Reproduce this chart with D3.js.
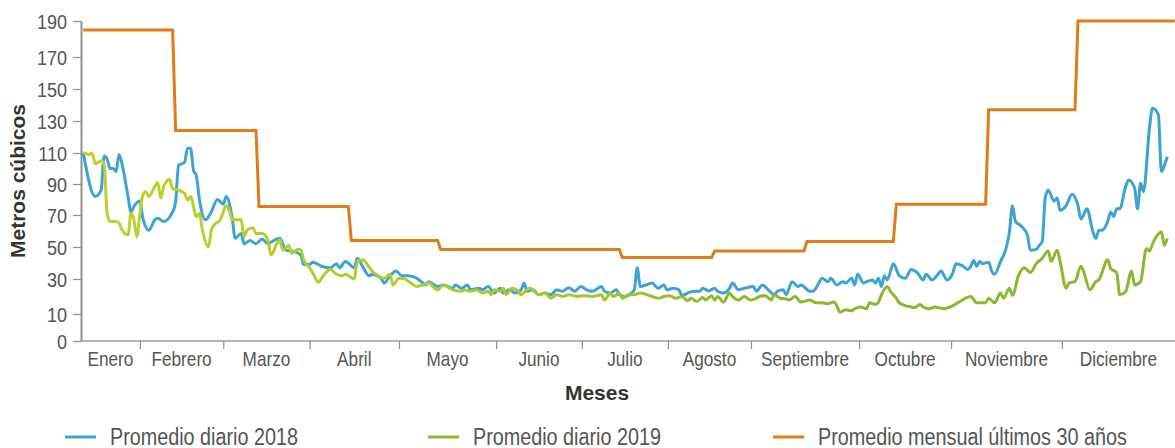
<!DOCTYPE html>
<html><head><meta charset="utf-8">
<script src="https://cdn.jsdelivr.net/npm/d3@7/dist/d3.min.js"></script>
<style>
html,body{margin:0;padding:0;background:#fff;}
svg{display:block;}
.lbl{font-family:"Liberation Sans",Arial,sans-serif;fill:#555;}
.ttl{font-family:"Liberation Sans",Arial,sans-serif;font-weight:bold;fill:#333;}
</style></head><body>
<svg id="chart" width="1175" height="448"></svg>
<script>
// ---------------- DATA ----------------
const monthLabels = ["Enero","Febrero","Marzo","Abril","Mayo","Junio","Julio","Agosto","Septiembre","Octubre","Noviembre","Diciembre"];
// month separators on the category axis (day-of-year units, as drawn in the original)
const monthTickDays = [19, 47, 76, 106, 138.6, 167.4, 196.3, 224.2, 260.5, 291.4, 328.6];
const yTickValues = [0, 10, 30, 50, 70, 90, 110, 130, 150, 170, 190];
const yTickLabels = ["0","10","30","50","70","90","110","130","150","170","190"];
const monthStartDays = [0, 31, 59, 90, 120, 151, 181, 212, 243, 273, 304, 334];
const lastDay = 366.5;
const avg30Values = [185, 124, 75.5, 54, 48.5, 48.5, 43.5, 47.5, 53.5, 77, 137, 190];
const seriesNames = ["Promedio diario 2018", "Promedio diario 2019", "Promedio mensual últimos 30 años"];

// [day of year, value]
const series2018 = [[0,110],[4,82],[6,86],[7,108],[8,106],[9,100],[10,100],[11,98],[12,109],[13,103],[15,82],[16,72],[17,75.5],[19,79],[20,68],[22,60.5],[24,67],[25,68],[27,66],[30,72],[31,78.6],[32,102],[34,104],[35,113],[36,113],[37,99],[38,95],[39,80],[41,67],[43,72],[45,80],[47,77],[48,82],[50,68],[51,55.4],[53,58.5],[54,52],[56,54],[58,52],[60,55],[62,52],[63,53],[66,55.4],[68,48],[71,47],[73,45],[74,39],[76,39],[77,40.5],[80,38],[83,37],[85,39.6],[86,37],[88,41],[91,37],[92,43],[94,37],[96,32],[97,33],[100,30.5],[101,27.7],[103,32],[105,35],[107,32],[109,32],[112,30.5],[114,27.7],[115,26.6],[116,28.5],[119,25.7],[121,26.6],[124,24.7],[125,26.6],[127,24.7],[129,26.6],[130,23.8],[133,24.7],[134,23.8],[136,25.7],[138,22],[140,24.7],[141,22],[143,23.8],[145,22],[147,23.8],[148,27.7],[149,23],[151,23.8],[153,21],[155,22],[157,21],[159,23.8],[161,23],[163,25],[165,23],[167,25.7],[169,23.8],[171,23],[174,25.7],[175,23],[177,22],[179,23.8],[180,21],[182,20],[184,22],[185,23.8],[186,37],[187,25.7],[189,26.6],[191,27.7],[193,24.7],[195,26.6],[196,23.8],[198,24.7],[200,23.8],[201,20.6],[203,22],[205,23],[207,23],[208,24.7],[210,23.2],[212,24.7],[213,23],[215,22],[217,24.7],[218,27.7],[220,23.8],[222,24.7],[225,25.7],[226,23],[228,26.6],[230,23.8],[232,21],[233,23],[235,23.8],[236,21],[238,28.5],[240,25.7],[241,26.6],[244,23],[245,23],[247,27.7],[248,30.5],[250,28.5],[251,30.5],[253,26.6],[255,28.5],[256,27.7],[258,30.5],[259,26.6],[260,33],[262,27.7],[263,28.5],[265,29.5],[266,27.7],[267,30.5],[268,25.7],[269,32],[270,29.5],[272,39.6],[274,32],[276,30.5],[278,36],[280,34],[282,29.5],[283,33],[285,29.5],[287,33],[288,35],[290,29.5],[292,34],[293,39.6],[295,38.5],[297,36],[298,38],[299,41.5],[300,38],[301,41],[302,39.6],[304,40.5],[305,35],[306,33],[308,41],[310,50.2],[311,59.6],[312,76],[313,66],[315,63],[317,57.5],[318,48],[320,48.5],[321,51],[322,53.4],[323,81],[324,86],[326,79],[327,81],[328,73],[330,76],[332,83.4],[334,76],[335,67.4],[337,74],[339,59.6],[340,55.4],[341,60.5],[342,60.5],[344,66],[345,72],[346,69],[347,74],[348,74],[350,88.3],[351,92.6],[353,87.6],[354,74],[355,90.5],[356,85],[358,125.5],[359,138],[361,134],[362,98],[363,102],[364,107.6]];

const series2019 = [[0,110.5],[2,109],[3,110],[4,103],[6,105],[7,103],[8,71],[9,66],[11,66],[12,65],[13,60.6],[15,57.5],[16,71],[17,67],[18,56.4],[19,71],[20,83],[21,85],[22,82],[24,88.4],[25,91],[26,81],[27,88.4],[29,93],[30,87],[31,86.6],[34,84],[35,79.6],[36,82],[38,69],[39,71],[40,60.6],[42,50],[43,60.6],[44,64],[46,67],[48,76],[49,73],[50,67],[53,67],[54,56.5],[55,60.6],[57,62],[58,58.5],[60,58.5],[62,54.4],[63,45],[65,52],[66,54.5],[67,48],[69,51],[70,46],[72,48.5],[73,48.5],[74,42],[76,37],[77,34],[79,28],[80,30.5],[82,35],[83,36],[85,33],[87,32],[88,33],[91,30],[92,41],[94,42],[95,40],[97,35],[99,32],[101,30.5],[103,33],[104,26.6],[106,30.5],[108,30],[110,27.7],[112,25.7],[114,26.6],[116,27.7],[118,24.7],[119,23.8],[121,26.6],[123,24.7],[124,23.8],[127,23],[128,23.8],[130,23],[132,23.8],[134,22],[136,23],[137,21],[138,23.8],[140,23],[141,24.7],[142,21],[144,24.7],[146,23],[147,21],[149,23.8],[150,24.7],[152,22],[153,21],[155,22],[157,19],[159,21],[161,20],[163,21],[166,20],[168,20.5],[171,20],[174,21],[175,18],[177,22],[178,20],[180,22],[181,19],[183,21],[185,21],[187,22],[191,20],[193,19],[195,20],[197,20.5],[199,19],[201,20],[203,17.6],[204,19],[206,17.2],[208,19.4],[209,18],[211,20.5],[212,18],[213,20],[215,16.8],[217,22],[218,20],[220,18],[222,20],[224,18],[226,19],[227,20],[229,20.5],[231,18],[232,21],[234,19],[236,18.6],[237,18],[239,20],[241,16.8],[242,17.2],[244,18],[246,16.4],[248,16.4],[250,15.8],[252,16.8],[253,14.8],[254,11],[256,12.5],[258,11.8],[259,13],[261,14],[263,13],[264,16.4],[266,15.5],[267,16.8],[268,21],[270,25.7],[271,23],[273,19],[274,16.4],[276,14.8],[278,14],[279,13.6],[281,15.5],[282,14],[284,13],[286,14],[289,13],[292,14.8],[294,16.8],[298,20],[300,16.4],[303,16.4],[304,19],[306,16.4],[308,22],[309,19],[311,24.7],[312,20.6],[314,32],[316,37],[318,34],[320,39.6],[322,43],[324,47.5],[325,41],[327,48],[328,41],[330,24.7],[331,27.7],[333,28.5],[335,38],[336,34],[338,23.8],[340,28.5],[341,29.5],[344,42],[345,36.5],[347,34],[348,21],[350,22.8],[352,35],[353,26.6],[355,28.5],[357,49],[358,47.5],[359,51.7],[360,55.4],[362,59.6],[363,51],[364,55.4]];

// ---------------- LAYOUT ----------------
const W = 1175, H = 448;
const axisX = 81, axisRight = 1175;
const yTickPx = [341, 314, 279, 247, 215, 184, 153, 121, 89, 57, 21];
const K = 0.86; // horizontal condensing of the light label face
const C2018 = "#3ea2d4", C2019a = "#bdd12b", C2019b = "#8cb82f", CAVG = "#e07c1c";

const svg = d3.select("#chart");

const x = d3.scaleLinear().domain([0, 365]).range([83.3, 1170.3]);
const y = d3.scaleLinear().domain(yTickValues).range(yTickPx);
const baseY = y(0);

// gradient for 2019 line
const defs = svg.append("defs");
const grad = defs.append("linearGradient").attr("id","g2019")
  .attr("gradientUnits","userSpaceOnUse")
  .attr("x1", x(0)).attr("x2", x(365)).attr("y1",0).attr("y2",0);
grad.append("stop").attr("offset","0").attr("stop-color",C2019a);
grad.append("stop").attr("offset","0.45").attr("stop-color","#a8c82e");
grad.append("stop").attr("offset","0.6").attr("stop-color",C2019b);
grad.append("stop").attr("offset","1").attr("stop-color",C2019b);

// Y axis
const yAxis = d3.axisLeft(y).tickValues(yTickValues)
  .tickFormat((d,i)=>yTickLabels[i]).tickSize(8).tickSizeOuter(0).tickPadding(6);
const gy = svg.append("g").attr("transform",`translate(${axisX},0)`).call(yAxis);
gy.select(".domain").attr("stroke","#8f8f8f").attr("stroke-width",2);
gy.selectAll(".tick line").attr("stroke","#8f8f8f").attr("stroke-width",1.2);
gy.selectAll(".tick text").attr("class","lbl").style("font-size","21px")
  .attr("font-family",null).attr("font-size",null)
  .attr("x",-14/K).attr("dy","0.36em").attr("transform",`scale(${K},1)`);
gy.attr("font-family",null).attr("font-size",null);

// X axis
const axisStartDay = x.invert(axisX), axisEndDay = x.invert(axisRight);
const xAxis = d3.axisBottom(x).tickValues(monthTickDays).tickFormat("")
  .tickSize(8).tickSizeOuter(0);
const gx = svg.append("g").attr("transform",`translate(0,${baseY})`).call(xAxis);
gx.select(".domain").attr("d",`M${axisX},0H${axisRight}`).attr("stroke","#9a9a9a").attr("stroke-width",1.6);
gx.selectAll(".tick line").attr("stroke","#8f8f8f").attr("stroke-width",1.2);

const bounds = [axisStartDay, ...monthTickDays, axisEndDay];
svg.append("g").selectAll("text").data(monthLabels).join("text")
  .attr("class","lbl").style("font-size","20px")
  .attr("text-anchor","middle")
  .attr("transform",(d,i)=>`translate(${x((bounds[i]+bounds[i+1])/2)},${baseY+25})scale(${K},1)`)
  .text(d=>d);

// Axis titles
svg.append("text").attr("class","ttl").style("font-size","21px")
  .attr("text-anchor","middle")
  .attr("transform",`translate(25,${(y(190)+baseY)/2})rotate(-90)`)
  .text("Metros cúbicos");
svg.append("text").attr("class","ttl").style("font-size","21px")
  .attr("text-anchor","middle")
  .attr("x",(axisX+axisRight)/2-31).attr("y",400)
  .text("Meses");

// Lines
const line = d3.line().x(d=>x(d[0])).y(d=>y(d[1])).curve(d3.curveMonotoneX);
const avgPts = [];
avg30Values.forEach((v,i)=>{
  const s = monthStartDays[i];
  const e = i < monthStartDays.length-1 ? monthStartDays[i+1]-1 : lastDay;
  avgPts.push([s,v],[e,v]);
});
const stepLine = d3.line().x(d=>x(d[0])).y(d=>y(d[1]));

svg.append("path").datum(series2018).attr("d",line)
  .attr("fill","none").attr("stroke",C2018).attr("stroke-width",3).attr("stroke-linejoin","round");
svg.append("path").datum(series2019).attr("d",line)
  .attr("fill","none").attr("stroke","url(#g2019)").attr("stroke-width",3).attr("stroke-linejoin","round");
svg.append("path").datum(avgPts).attr("d",stepLine)
  .attr("fill","none").attr("stroke",CAVG).attr("stroke-width",3);

// Legend
const legendX = [65, 428, 773];
const legendColors = [C2018, C2019b, CAVG];
const lg = svg.append("g").selectAll("g").data(seriesNames).join("g")
  .attr("transform",(d,i)=>`translate(${legendX[i]},437)`);
lg.append("line").attr("x1",0).attr("x2",31).attr("y1",0).attr("y2",0)
  .attr("stroke",(d,i)=>legendColors[i]).attr("stroke-width",3);
lg.append("text").attr("class","lbl").style("font-size","23px")
  .attr("transform",`translate(45,8)scale(${K},1)`).text(d=>d);
</script>
</body></html>
